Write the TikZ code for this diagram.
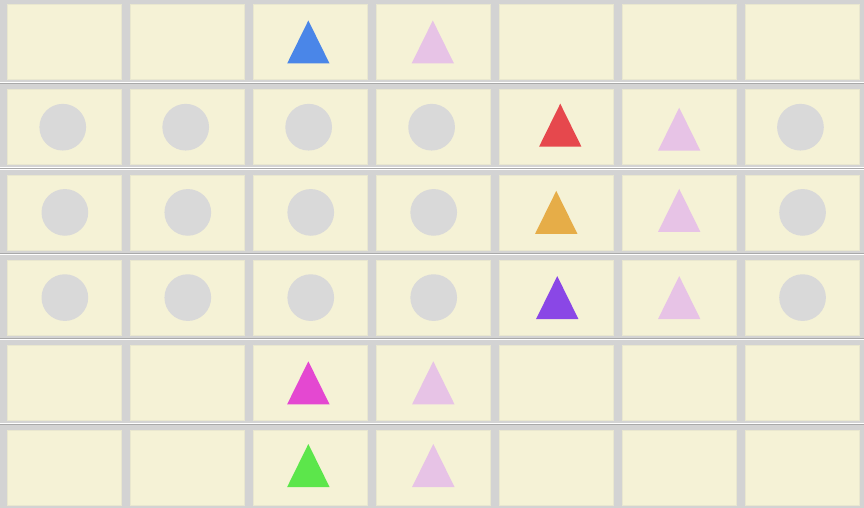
\documentclass[tikz,border=0pt]{standalone}
\usepackage{tikz}
\usetikzlibrary{positioning}

\definecolor{boardgray}{HTML}{D3D3D3}
\definecolor{rulegray}{HTML}{A9A9A9}
\definecolor{cellcream}{HTML}{F5F2D6}
\definecolor{celledge}{HTML}{E9E7CF}
\definecolor{dotgray}{HTML}{D9D9D9}
\definecolor{tripink}{HTML}{E7C3E6}
\definecolor{triblue}{HTML}{4A86E8}
\definecolor{trired}{HTML}{E6484D}
\definecolor{triorange}{HTML}{E6AD48}
\definecolor{tripurple}{HTML}{8A47E6}
\definecolor{trimagenta}{HTML}{E448D1}
\definecolor{trigreen}{HTML}{5CE64B}

\begin{document}
\begin{tikzpicture}[
    x=1pt, y=-1pt,
    cell/.style={
        draw=celledge,
        fill=cellcream,
        line width=0.8pt,
        minimum width=114.5pt,
        minimum height=75pt,
        inner sep=0pt
    },
    dot/.style={
        circle,
        fill=dotgray,
        minimum size=46.7pt,
        inner sep=0pt
    },
    rowrule/.style={draw=white, double=rulegray, double distance=0.9pt, line width=0.6pt},
    tri/.pic={
        \path[pic actions] (0,-21.5) -- (21.2,21.5) -- (-21.2,21.5) -- cycle;
    }
]

%% ── Board ────────────────────────────────────────────────────────────────────
\fill[boardgray] (0,0) rectangle (864,508);
\useasboundingbox (0,0) rectangle (864,508);

%% ── Cells (6 rows x 7 columns) ───────────────────────────────────────────────
\foreach \r in {1,...,6}{
    \foreach \c in {1,...,7}{
        \node[cell] (c-\r-\c) at ({64.45+122.95*(\c-1)}, {42+85.2*(\r-1)}) {};
    }
}

%% ── Row rules ────────────────────────────────────────────────────────────────
\foreach \r in {1,...,5}{
    \draw[rowrule] (0,{83.3+85.2*(\r-1)}) -- (864,{83.3+85.2*(\r-1)});
}

%% ── Grey discs (rows 2-4) ────────────────────────────────────────────────────
\foreach \r/\dx in {2/-1.7, 3/0.4, 4/0.4}{
    \foreach \c in {1,2,3,4,7}{
        \node[dot] (d-\r-\c) at ([xshift=\dx pt]c-\r-\c.center) {};
    }
}

%% ── Pink triangles ───────────────────────────────────────────────────────────
\pic[fill=tripink] (p1) at ([xshift=-0.5pt]c-1-4.center) {tri};
\pic[fill=tripink] (p2) at ([yshift=-2pt]c-2-6.center) {tri};
\pic[fill=tripink] (p3) at ([yshift=2pt]c-3-6.center) {tri};
\pic[fill=tripink] (p4) at (c-4-6.center) {tri};
\pic[fill=tripink] (p5) at (c-5-4.center) {tri};
\pic[fill=tripink] (p6) at ([yshift=2.5pt]c-6-4.center) {tri};

%% ── Coloured triangles ───────────────────────────────────────────────────────
\pic[fill=triblue]    (t1) at ([xshift=-2pt]c-1-3.center) {tri};
\pic[fill=trired]     (t2) at ([xshift=4pt, yshift=2pt]c-2-5.center) {tri};
\pic[fill=triorange]  (t3) at (c-3-5.center) {tri};
\pic[fill=tripurple]  (t4) at ([xshift=1pt]c-4-5.center) {tri};
\pic[fill=trimagenta] (t5) at ([xshift=-2pt]c-5-3.center) {tri};
\pic[fill=trigreen]   (t6) at ([xshift=-2pt, yshift=2.5pt]c-6-3.center) {tri};

\end{tikzpicture}
\end{document}
